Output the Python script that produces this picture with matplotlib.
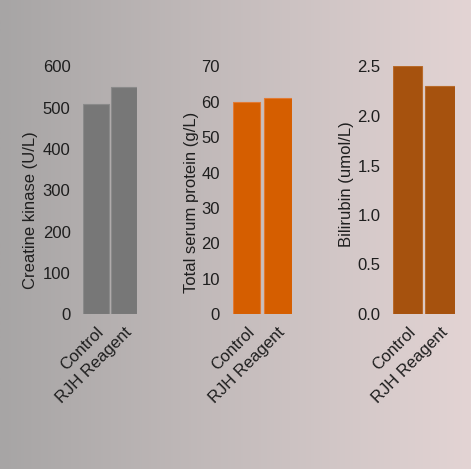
import numpy as np
import matplotlib.pyplot as plt

groups = ["Control", "RJH Reagent"]
creatine_kinase = [510, 550]
serum_protein = [60, 61]
bilirubin = [2.5, 2.3]

panels = [
    (creatine_kinase, "Creatine kinase (U/L)", (0, 600), np.arange(0, 601, 100), "#777777", "#8a8a8a", "{:.0f}"),
    (serum_protein, "Total serum protein (g/L)", (0, 70), np.arange(0, 71, 10), "#d55e00", "#e27a33", "{:.0f}"),
    (bilirubin, "Bilirubin (umol/L)", (0, 2.5), np.arange(0, 2.51, 0.5), "#a6520e", "#b86a2a", "{:.1f}"),
]

plt.rcParams['font.family'] = ['Liberation Sans', 'DejaVu Sans']
fig = plt.figure(figsize=(4.71, 4.69), dpi=100)

# background gradient, gray on the left to pink on the right
bg = fig.add_axes([0, 0, 1, 1])
left = np.array([0xa7, 0xa5, 0xa5]) / 255
right = np.array([0xe3, 0xd4, 0xd4]) / 255
t = np.linspace(0, 1, 256)[None, :, None]
grad = left + (right - left) * t
bg.imshow(grad, aspect='auto', extent=[0, 1, 0, 1])
bg.axis('off')

W, H = 471, 469
boxes = [(83, 54), (232.5, 59), (393, 61.5)]
label_pos = [(31, 210.5), (191.5, 202.5), (347, 184)]
bottom, top = 314, 66.5

for (vals, label, ylim, ticks, fc, ec, fmt), (x0, w), (lx, ly) in zip(panels, boxes, label_pos):
    ax = fig.add_axes([x0 / W, (H - bottom) / H, w / W, (bottom - top) / H])
    ax.patch.set_alpha(0)
    ax.bar(range(len(groups)), vals, width=0.9, color=fc, edgecolor=ec, linewidth=0.8)
    ax.set_xlim(-0.45, 1.45)
    ax.set_ylim(*ylim)
    ax.set_yticks(ticks)
    ax.set_yticklabels([fmt.format(v) for v in ticks])
    ax.set_xticks(range(len(groups)))
    ax.set_xticklabels(groups, rotation=45, ha='right', rotation_mode='anchor')
    ax.tick_params(length=0, labelsize=12, colors='#1e1e1e')
    ax.tick_params(axis='y', pad=9)
    ax.tick_params(axis='x', pad=7.5)
    for s in ax.spines.values():
        s.set_visible(False)
    fig.text(lx / W, (H - ly) / H, label, rotation=90, ha='center', va='center',
             fontsize=12, color='#1e1e1e')

fig.savefig("out.png", dpi=100)
